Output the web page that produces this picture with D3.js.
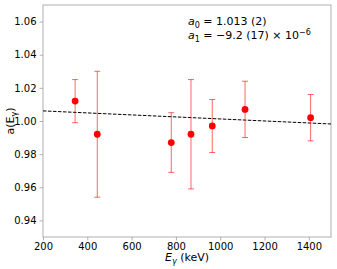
<!DOCTYPE html>
<html>
<head>
<meta charset="utf-8">
<script src="https://cdn.jsdelivr.net/npm/d3@7"></script>
<style>
  body { margin: 0; background: #fff; }
  svg { font-family: "DejaVu Sans", sans-serif; }
</style>
</head>
<body>
<svg id="chart" width="337" height="269"></svg>
<script>
// measured points
var energies = [345, 445, 779, 868, 964, 1112, 1408];
var values = [1.012, 0.992, 0.987, 0.992, 0.997, 1.007, 1.002];
var errors = [0.013, 0.038, 0.018, 0.033, 0.016, 0.017, 0.014];

// fit line end points as drawn
var fitX = [200, 1500];
var fitY = [1.0061, 0.9982];

var xTicks = [200, 400, 600, 800, 1000, 1200, 1400];
var yTicks = [0.94, 0.96, 0.98, 1.00, 1.02, 1.04, 1.06];

var margin = {left: 43, top: 5, right: 6, bottom: 32};
var width = 337, height = 269;

var svg = d3.select("#chart");

var x = d3.scaleLinear().domain([200, 1500]).range([margin.left, width - margin.right]);
var y = d3.scaleLinear().domain([0.93, 1.07]).range([height - margin.bottom, margin.top]);

// frame
svg.append("rect")
  .attr("x", x(200)).attr("y", y(1.07))
  .attr("width", x(1500) - x(200)).attr("height", y(0.93) - y(1.07))
  .attr("fill", "none").attr("stroke", "#b0b0b0").attr("stroke-width", 1);

// axes
var xAxis = svg.append("g")
  .attr("transform", "translate(0," + y(0.93) + ")")
  .call(d3.axisBottom(x).tickValues(xTicks).tickSize(3.5).tickPadding(2).tickFormat(d3.format("d")));
var yAxis = svg.append("g")
  .attr("transform", "translate(" + x(200) + ",0)")
  .call(d3.axisLeft(y).tickValues(yTicks).tickSize(3.5).tickPadding(3).tickFormat(d3.format(".2f")));
[xAxis, yAxis].forEach(function(a) {
  a.select(".domain").remove();
  a.selectAll(".tick line").attr("stroke", "#b0b0b0");
  a.selectAll(".tick text").attr("fill", "#000").style("font-size", "10px").style("font-family", "DejaVu Sans");
});

// fit line
svg.append("line")
  .attr("x1", x(fitX[0])).attr("y1", y(fitY[0]))
  .attr("x2", x(fitX[1])).attr("y2", y(fitY[1]))
  .attr("stroke", "#000").attr("stroke-width", 1)
  .attr("stroke-dasharray", "3.5,1.5");

// error bars
var pts = energies.map(function(e, i) { return {e: e, v: values[i], s: errors[i]}; });
var eb = svg.append("g").attr("stroke", "red").attr("stroke-opacity", 0.6).attr("stroke-width", 1);
pts.forEach(function(d) {
  eb.append("line").attr("x1", x(d.e)).attr("x2", x(d.e)).attr("y1", y(d.v - d.s)).attr("y2", y(d.v + d.s));
  [d.v - d.s, d.v + d.s].forEach(function(v) {
    eb.append("line").attr("x1", x(d.e) - 3).attr("x2", x(d.e) + 3).attr("y1", y(v)).attr("y2", y(v));
  });
});

// points
svg.append("g").selectAll("circle").data(pts).enter().append("circle")
  .attr("cx", function(d) { return x(d.e); })
  .attr("cy", function(d) { return y(d.v); })
  .attr("r", 3.4)
  .attr("fill", "red");

// fit parameters
var t1 = svg.append("text").attr("x", 188).attr("y", 25).style("font-size", "11px");
t1.append("tspan").attr("font-style", "italic").text("a");
t1.append("tspan").attr("dy", 3).style("font-size", "8px").text("0");
t1.append("tspan").attr("dy", -3).text(" = 1.013 (2)");

var t2 = svg.append("text").attr("x", 188).attr("y", 39).style("font-size", "11px");
t2.append("tspan").attr("font-style", "italic").text("a");
t2.append("tspan").attr("dy", 3).style("font-size", "8px").text("1");
t2.append("tspan").attr("dy", -3).text(" = \u22129.2 (17) \u00d7 10");
t2.append("tspan").attr("dy", -4).style("font-size", "8px").text("\u22126");

// axis labels
var xl = svg.append("text").attr("x", (x(200) + x(1500)) / 2).attr("y", 261)
  .attr("text-anchor", "middle").style("font-size", "11px");
xl.append("tspan").attr("font-style", "italic").text("E");
xl.append("tspan").attr("dy", 3).attr("font-style", "italic").style("font-size", "8px").text("\u03b3");
xl.append("tspan").attr("dy", -3).text(" (keV)");

var yl = svg.append("text")
  .attr("transform", "translate(14," + (y(0.93) + y(1.07)) / 2 + ") rotate(-90)")
  .attr("text-anchor", "middle").style("font-size", "11px");
yl.append("tspan").text("a(E");
yl.append("tspan").attr("dy", 3).style("font-size", "8px").text("\u03b3");
yl.append("tspan").attr("dy", -3).text(")");
</script>
</body>
</html>
